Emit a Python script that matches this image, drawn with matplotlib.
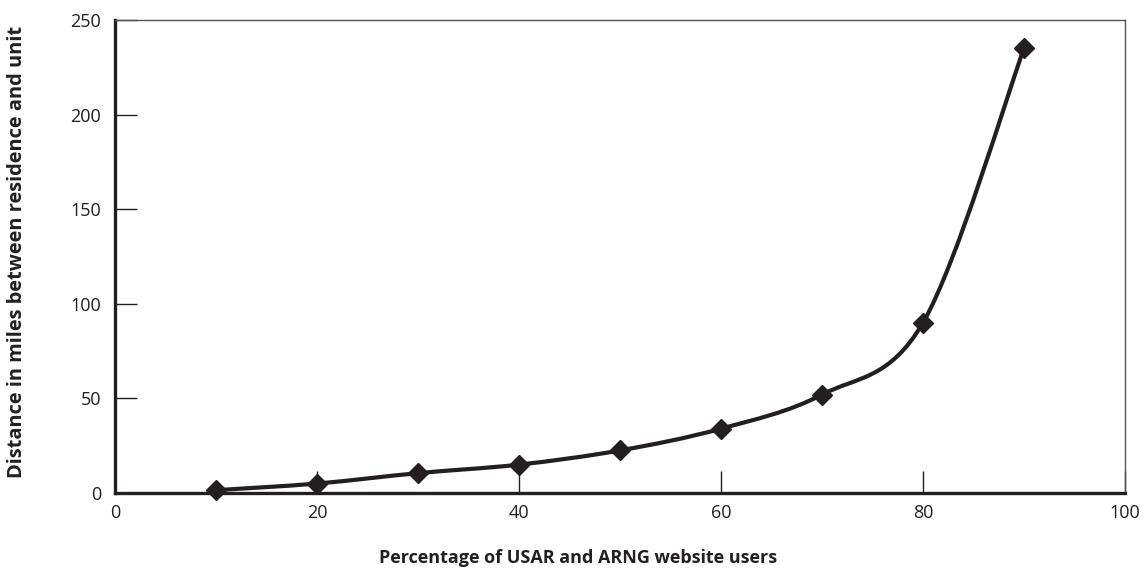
import numpy as np
import matplotlib
matplotlib.use("Agg")
import matplotlib.pyplot as plt
from matplotlib.path import Path
from matplotlib.patches import PathPatch

plt.rcParams['font.family'] = ['Open Sans', 'DejaVu Sans']

pct_users = [10, 20, 30, 40, 50, 60, 70, 80, 90]
distance = [1.5, 5, 10.5, 15, 22.5, 34, 52, 90, 235]
x_ticks = [0, 20, 40, 60, 80, 100]
y_ticks = [0, 50, 100, 150, 200, 250]

W, H = 1147, 571
fig = plt.figure(figsize=(W / 100, H / 100), dpi=100)
ax = fig.add_axes([0.1003, 0.1366, 0.8805, 0.8284])

# smoothed line via cubic Bezier segments (Catmull-Rom style control points)
xs = np.array(pct_users, float)
ys = np.array(distance, float)
n = len(xs)
verts = [(xs[0], ys[0])]
codes = [Path.MOVETO]
t = 1/6
for i in range(n - 1):
    p0 = np.array([xs[max(i-1, 0)], ys[max(i-1, 0)]])
    p1 = np.array([xs[i], ys[i]])
    p2 = np.array([xs[i+1], ys[i+1]])
    p3 = np.array([xs[min(i+2, n-1)], ys[min(i+2, n-1)]])
    c1 = p1 + (p2 - p0) * t
    c2 = p2 - (p3 - p1) * t
    verts += [tuple(c1), tuple(c2), tuple(p2)]
    codes += [Path.CURVE4] * 3
patch = PathPatch(Path(verts, codes), facecolor='none', edgecolor='#231f20', lw=3, zorder=2)
ax.add_patch(patch)
ax.plot(pct_users, distance, linestyle='none', marker='D', markersize=10,
        color='#231f20', zorder=3, clip_on=False)

ax.set_xlim(0, 100)
ax.set_ylim(0, 250)
ax.set_xticks(x_ticks)
ax.set_yticks(y_ticks)
ax.tick_params(axis='both', direction='in', length=16, width=1, color='#231f20',
               labelsize=13, labelcolor='#231f20')
ax.tick_params(axis='x', pad=8)
ax.tick_params(axis='y', pad=10)
for s in ['left', 'bottom']:
    ax.spines[s].set_linewidth(2.4)
    ax.spines[s].set_color('#231f20')
for s in ['top', 'right']:
    ax.spines[s].set_linewidth(1.0)
    ax.spines[s].set_color('#555555')

fig.text(578 / W, 1 - 558 / H, 'Percentage of USAR and ARNG website users',
         fontsize=13, fontweight='bold', color='#231f20', ha='center', va='center')
fig.text(17 / W, 1 - 252 / H, 'Distance in miles between residence and unit',
         fontsize=14.4, fontweight='bold', color='#231f20', ha='center', va='center',
         rotation=90)

fig.savefig('out.png', dpi=100, facecolor='white')
